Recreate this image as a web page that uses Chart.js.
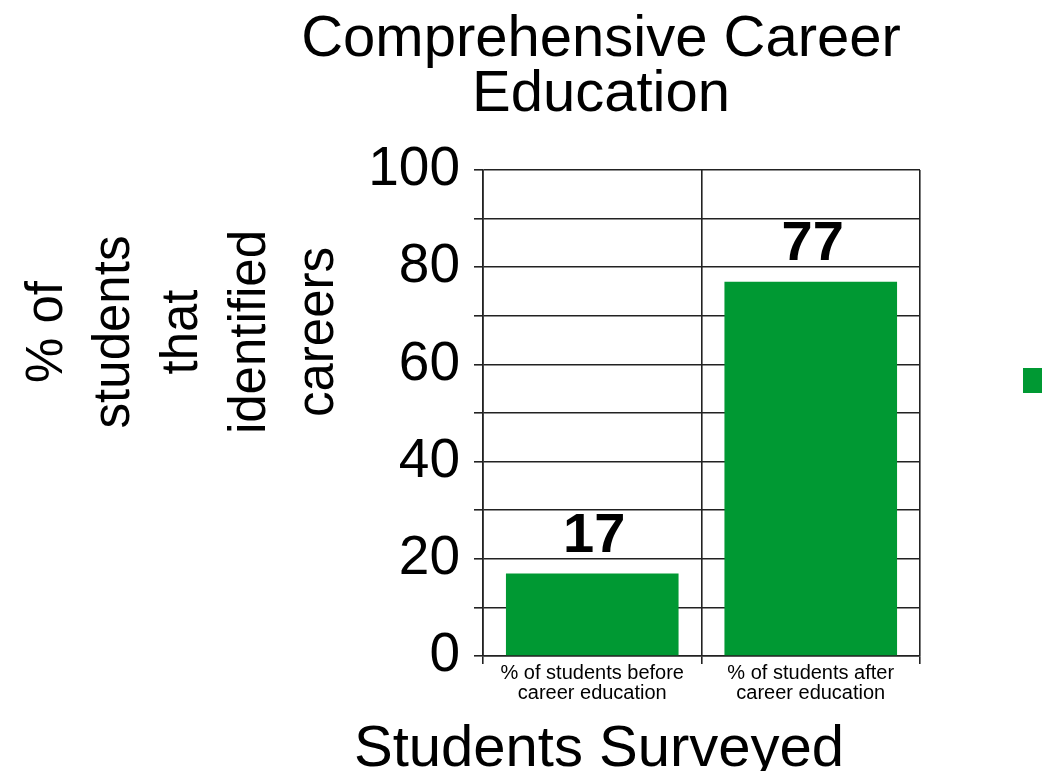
<!DOCTYPE html>
<html>
<head>
<meta charset="utf-8">
<script src="https://cdn.jsdelivr.net/npm/chart.js@4.4.1/dist/chart.umd.min.js"></script>
<style>
  html, body { margin: 0; padding: 0; background: #ffffff; }
  #wrap { width: 1042px; height: 771px; }
</style>
</head>
<body>
<div id="wrap"><canvas id="c" width="1042" height="771"></canvas></div>
<script>
// ---- data ----
const categories = [
  ["% of students before", "career education"],
  ["% of students after", "career education"]
];
const values = [17, 77];
const yMin = 0;
const yMax = 100;
const yStep = 10;
const yLabelStep = 20;
const titleLines = ["Comprehensive Career", "Education"];
const yTitleLines = ["% of", "students", "that", "identified", "careers"];
const xTitle = "Students Surveyed";

const FONT = "'Liberation Sans', Arial, Helvetica, sans-serif";
const GREEN = "#009933";
const LINE = "#222222";

const textPlugin = {
  id: 'textPlugin',
  afterDraw(chart) {
    const ctx = chart.ctx;
    ctx.save();
    ctx.fillStyle = '#000';
    // main title
    ctx.font = "58px " + FONT;
    ctx.textAlign = 'center';
    ctx.textBaseline = 'alphabetic';
    const tBase = [56, 111];
    titleLines.forEach((t, i) => ctx.fillText(t, 601, tBase[i]));
    // x title
    ctx.font = "58px " + FONT;
    ctx.fillText(xTitle, 599, 766);
    // y title (rotated, multi-line)
    ctx.font = "51px " + FONT;
    const yBase = [62, 129, 197, 265, 333];
    yTitleLines.forEach((t, i) => {
      ctx.save();
      ctx.translate(yBase[i], 332);
      ctx.rotate(-Math.PI / 2);
      ctx.fillText(t, 0, 0);
      ctx.restore();
    });
    // data labels
    ctx.font = "bold 56px " + FONT;
    ctx.textBaseline = 'bottom';
    const meta = chart.getDatasetMeta(0);
    meta.data.forEach((bar, i) => {
      ctx.fillText(String(values[i]), bar.x + 2, bar.y - 9);
    });
    // legend marker (cut off at the right edge)
    ctx.fillStyle = GREEN;
    ctx.fillRect(1023, 368, 25, 25);
    ctx.restore();
  }
};

new Chart(document.getElementById('c'), {
  type: 'bar',
  data: {
    labels: categories,
    datasets: [{
      label: 'Series1',
      data: values,
      backgroundColor: GREEN,
      borderWidth: 0,
      categoryPercentage: 1.0,
      barPercentage: 0.79
    }]
  },
  options: {
    responsive: false,
    devicePixelRatio: 1,
    animation: false,
    layout: { padding: { left: 353, right: 122, top: 170, bottom: 65 } },
    plugins: {
      legend: { display: false },
      title: { display: false },
      tooltip: { enabled: false }
    },
    scales: {
      x: {
        offset: true,
        grid: {
          offset: true,
          color: LINE,
          lineWidth: 1.6,
          tickLength: 8,
          tickColor: LINE
        },
        border: { color: LINE, width: 1.6 },
        ticks: {
          color: '#000',
          font: { family: FONT, size: 20, lineHeight: 1.0 },
          padding: -1,
          maxRotation: 0,
          minRotation: 0,
          autoSkip: false
        },
        afterFit(scale) { scale.height = 50; }
      },
      y: {
        min: yMin,
        max: yMax,
        grid: {
          color: LINE,
          lineWidth: 1.6,
          tickLength: 9,
          tickColor: LINE
        },
        border: { color: LINE, width: 1.6 },
        ticks: {
          stepSize: yStep,
          autoSkip: false,
          color: '#000',
          padding: 14,
          font: { family: FONT, size: 55 },
          callback: (v) => (v % yLabelStep === 0 ? String(v) : '')
        },
        afterFit(scale) { scale.width = 130; }
      }
    }
  },
  plugins: [textPlugin]
});
</script>
</body>
</html>
